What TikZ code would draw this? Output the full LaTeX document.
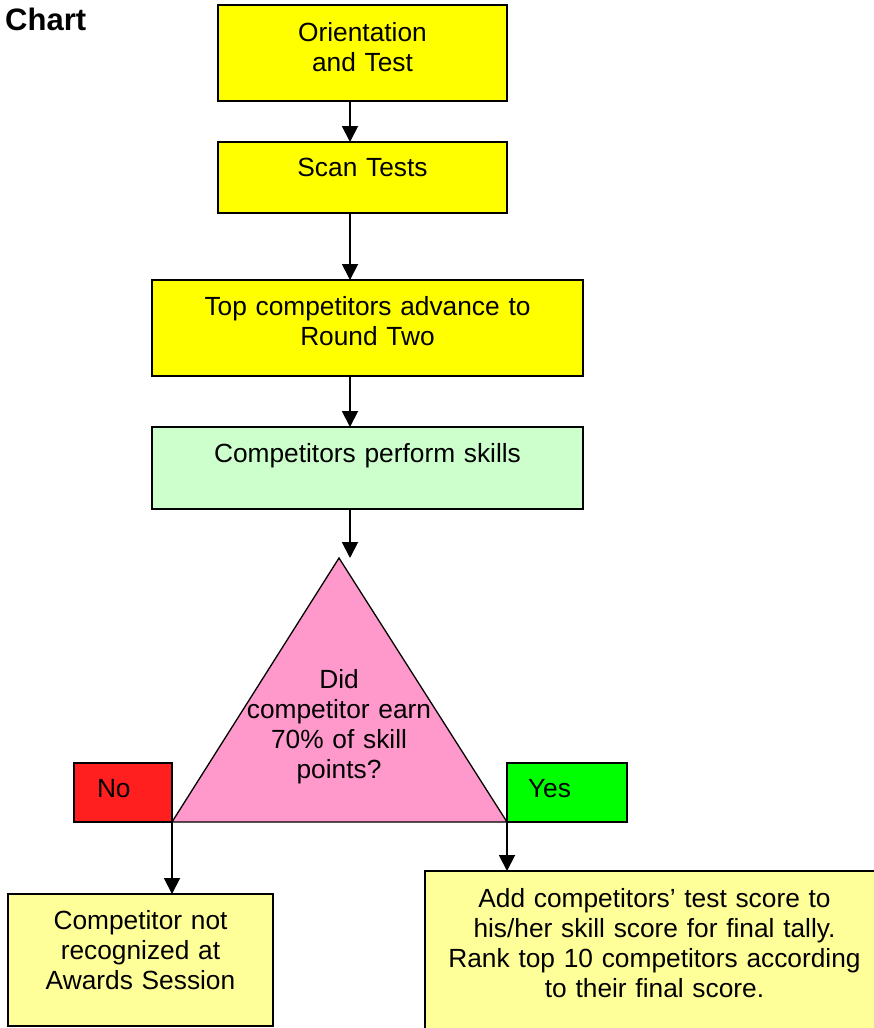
\documentclass[tikz,border=0pt]{standalone}
\usepackage{fontspec}
\setmainfont{Liberation Sans}
\usepackage{xcolor}
\usetikzlibrary{arrows.meta,positioning}

\definecolor{stepyellow}{HTML}{FFFF00}
\definecolor{skillgreen}{HTML}{CCFFCC}
\definecolor{paleyellow}{HTML}{FFFF99}
\definecolor{askpink}{HTML}{FF99CC}
\definecolor{nored}{HTML}{FF1F1F}
\definecolor{yesgreen}{HTML}{00FF00}

\begin{document}
\begin{tikzpicture}[x=1pt, y=-1pt,
  flowbox/.style  ={draw=black, line width=1.6pt, fill=stepyellow, rectangle,
                    inner sep=0pt, outer sep=0pt, anchor=north,
                    align=center, font=\fontsize{26.3}{30}\selectfont},
  skillbox/.style ={flowbox, fill=skillgreen},
  resultbox/.style={flowbox, fill=paleyellow},
  answer/.style   ={draw=black, line width=1.6pt, rectangle, outer sep=0pt,
                    inner ysep=0pt, anchor=north west, align=left,
                    text height=34pt, text depth=25pt,
                    font=\fontsize{26.3}{30}\selectfont},
  qtext/.style    ={inner sep=0pt, text width=220pt, align=center,
                    text height=0pt, text depth=0pt,
                    font=\fontsize{26.3}{30}\selectfont},
  arr/.style      ={-{Triangle[width=16pt,length=16pt]}, line width=1.9pt}
]
\useasboundingbox (0,0) rectangle (874,1028);

%% ── Title ─────────────────────────────────────────────────────────────
\node[font=\bfseries\fontsize{31}{36}\selectfont, anchor=base west,
      inner sep=0pt] (title) at (5,30) {Chart};

%% ── Round one ─────────────────────────────────────────────────────────
\node[flowbox, text width=289pt, text height=36pt, text depth=60pt]
    (orient) at (362.5,5) {Orientation\\and Test};
\node[flowbox, text width=289pt, text height=34pt, text depth=37pt]
    (scan) at (362.5,142) {Scan Tests};
\node[flowbox, text width=431pt, text height=35pt, text depth=61pt]
    (advance) at (367.5,280) {Top competitors advance to\\Round Two};

%% ── Round two ─────────────────────────────────────────────────────────
\node[skillbox, text width=431pt, text height=35pt, text depth=47pt]
    (perform) at (367.5,427) {Competitors perform skills};

\coordinate (apex)  at (339,558);
\coordinate (baseL) at (172,822);
\coordinate (baseR) at (507,822);
\draw[line width=1.3pt, fill=askpink] (apex) -- (baseR) -- (baseL) -- cycle;
\node[qtext] (ask) at (339,688)
    {Did\\competitor earn\\70\% of skill\\points?};

\node[answer, fill=nored,    text width=52pt, inner xsep=23pt] (no)  at (74,763)  {No};
\node[answer, fill=yesgreen, text width=78pt, inner xsep=21pt] (yes) at (507,763) {Yes};

%% ── Outcomes ──────────────────────────────────────────────────────────
\node[resultbox, text width=265pt, text height=35pt, text depth=97pt]
    (notrec) at (140.5,894) {Competitor not\\recognized at\\Awards Session};
\node[resultbox, text width=459pt, text height=36pt, text depth=133pt]
    (tally) at (654.5,871)
    {Add competitors’ test score to\\his/her skill score for final tally.\\
     Rank top 10 competitors according\\to their final score.};

%% ── Connectors ────────────────────────────────────────────────────────
\coordinate (spine) at (350,0);
\draw[arr] (orient.south -| spine)  -- (scan.north -| spine);
\draw[arr] (scan.south -| spine)    -- (advance.north -| spine);
\draw[arr] (advance.south -| spine) -- (perform.north -| spine);
\draw[arr] (perform.south -| spine) -- (apex -| spine);
\draw[arr] (baseL) -- (baseL |- notrec.north);
\draw[arr] (baseR) -- (baseR |- tally.north);

\end{tikzpicture}
\end{document}
